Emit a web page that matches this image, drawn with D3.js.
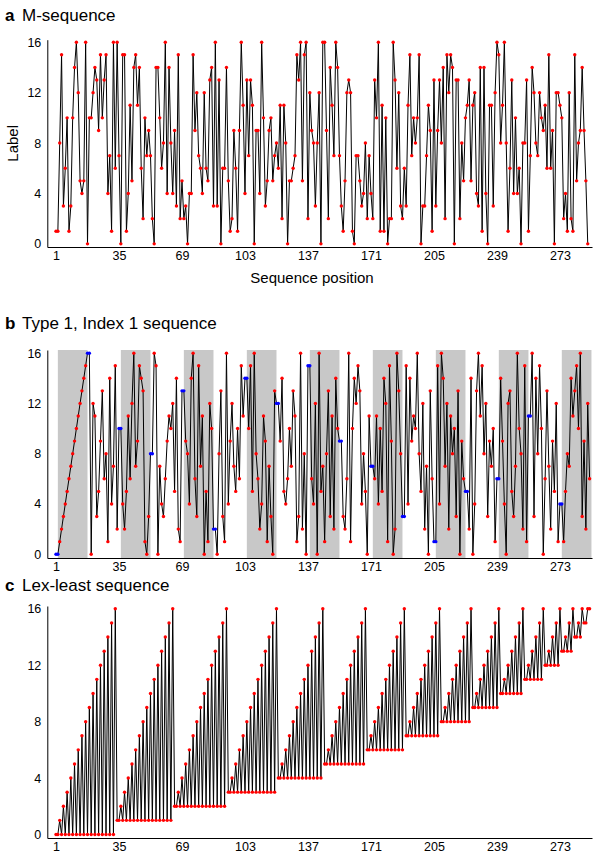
<!DOCTYPE html>
<html>
<head>
<meta charset="utf-8">
<script src="https://cdn.jsdelivr.net/npm/d3@7"></script>
<style>
  body { margin: 0; background: #fff; }
  text { font-family: "Liberation Sans", Arial, sans-serif; fill: #000; }
</style>
</head>
<body>
<div id="chart"></div>
<script>
// label values, one entry per sequence position
const mSequence = [
  1, 1, 8, 15, 3, 6, 10, 1, 3, 10, 14, 16, 12, 5, 4, 5, 16, 0, 10, 10,
  12, 14, 13, 9, 15, 10, 13, 15, 4, 7, 1, 16, 6, 16, 7, 0, 15, 15, 1, 4,
  11, 5, 14, 15, 11, 14, 6, 2, 10, 7, 9, 7, 2, 0, 14, 14, 10, 6, 8, 16,
  4, 14, 8, 4, 9, 3, 15, 2, 5, 2, 3, 0, 4, 4, 15, 9, 12, 7, 6, 4,
  12, 6, 5, 13, 14, 3, 16, 3, 13, 0, 6, 6, 14, 5, 1, 2, 9, 6, 1, 9,
  16, 11, 4, 13, 7, 13, 11, 0, 9, 9, 4, 16, 10, 3, 5, 9, 10, 5, 7, 8,
  6, 11, 2, 11, 8, 0, 5, 5, 6, 7, 15, 13, 16, 5, 15, 16, 2, 12, 9, 8,
  3, 8, 12, 0, 16, 16, 9, 2, 14, 11, 7, 16, 14, 7, 3, 1, 5, 12, 13, 12,
  1, 0, 7, 7, 5, 3, 4, 8, 2, 7, 4, 2, 13, 10, 16, 1, 11, 1, 10, 0,
  2, 2, 16, 13, 6, 12, 3, 2, 6, 3, 11, 15, 7, 10, 8, 10, 15, 0, 3, 3,
  7, 11, 9, 1, 13, 3, 9, 13, 8, 14, 2, 15, 12, 15, 14, 0, 13, 13, 2, 8,
  5, 10, 11, 13, 5, 11, 12, 4, 3, 14, 1, 14, 4, 0, 11, 11, 3, 12, 16, 15,
  8, 11, 16, 8, 1, 6, 13, 4, 10, 4, 6, 0, 8, 8, 13, 1, 7, 14, 12, 8,
  7, 12, 10, 9, 11, 6, 15, 6, 9, 0, 12, 12, 11, 10, 2, 4, 1, 12, 2, 1,
  15, 5, 8, 9, 14, 9, 5, 0
];

const type1Sequence = [
  0, 0, 1, 2, 3, 4, 5, 6, 7, 8, 9, 10, 11, 12, 13, 14, 15,
  16, 16, 0, 12, 11, 3, 5, 9, 13, 6, 8, 1, 14, 4, 7, 15, 2,
  10, 10, 4, 2, 5, 11, 6, 12, 16, 7, 9, 15, 14, 13, 1, 0, 3,
  8, 8, 16, 15, 0, 7, 4, 3, 6, 9, 11, 10, 12, 5, 14, 2, 1,
  13, 13, 9, 8, 4, 14, 16, 6, 3, 15, 7, 11, 0, 5, 1, 12, 10,
  2, 2, 0, 8, 13, 3, 1, 16, 4, 9, 12, 7, 5, 10, 6, 15, 11,
  14, 14, 10, 15, 5, 16, 8, 6, 2, 4, 11, 9, 1, 7, 3, 0, 13,
  12, 12, 9, 14, 5, 4, 6, 10, 7, 13, 11, 1, 3, 16, 2, 8, 0,
  15, 15, 6, 4, 12, 0, 16, 5, 7, 1, 8, 13, 3, 11, 2, 14, 10,
  9, 9, 3, 2, 6, 16, 1, 10, 14, 12, 15, 13, 4, 8, 5, 0, 11,
  7, 7, 6, 11, 4, 10, 5, 14, 12, 1, 15, 9, 0, 2, 16, 13, 8,
  3, 3, 15, 4, 14, 9, 11, 10, 16, 8, 5, 12, 2, 7, 0, 13, 6,
  1, 1, 15, 4, 16, 14, 7, 12, 2, 11, 8, 10, 3, 13, 0, 9, 6,
  5, 5, 2, 14, 0, 4, 13, 16, 11, 15, 8, 12, 3, 9, 7, 10, 1,
  6, 6, 14, 9, 4, 0, 12, 13, 5, 3, 7, 16, 10, 8, 2, 15, 1,
  11, 11, 16, 3, 14, 8, 15, 10, 0, 6, 13, 7, 2, 9, 5, 12, 1,
  4, 4, 1, 5, 8, 7, 14, 11, 13, 15, 10, 16, 3, 9, 2, 12, 6
];

const lexLeastSequence = [
  0, 0, 1, 0, 2, 0, 3, 0, 4, 0, 5, 0, 6, 0, 7, 0, 8, 0, 9, 0, 10, 0, 11, 0, 12, 0, 13, 0, 14, 0, 15, 0, 16,
  1, 1, 2, 1, 3, 1, 4, 1, 5, 1, 6, 1, 7, 1, 8, 1, 9, 1, 10, 1, 11, 1, 12, 1, 13, 1, 14, 1, 15, 1, 16,
  2, 2, 3, 2, 4, 2, 5, 2, 6, 2, 7, 2, 8, 2, 9, 2, 10, 2, 11, 2, 12, 2, 13, 2, 14, 2, 15, 2, 16,
  3, 3, 4, 3, 5, 3, 6, 3, 7, 3, 8, 3, 9, 3, 10, 3, 11, 3, 12, 3, 13, 3, 14, 3, 15, 3, 16,
  4, 4, 5, 4, 6, 4, 7, 4, 8, 4, 9, 4, 10, 4, 11, 4, 12, 4, 13, 4, 14, 4, 15, 4, 16,
  5, 5, 6, 5, 7, 5, 8, 5, 9, 5, 10, 5, 11, 5, 12, 5, 13, 5, 14, 5, 15, 5, 16,
  6, 6, 7, 6, 8, 6, 9, 6, 10, 6, 11, 6, 12, 6, 13, 6, 14, 6, 15, 6, 16,
  7, 7, 8, 7, 9, 7, 10, 7, 11, 7, 12, 7, 13, 7, 14, 7, 15, 7, 16,
  8, 8, 9, 8, 10, 8, 11, 8, 12, 8, 13, 8, 14, 8, 15, 8, 16,
  9, 9, 10, 9, 11, 9, 12, 9, 13, 9, 14, 9, 15, 9, 16,
  10, 10, 11, 10, 12, 10, 13, 10, 14, 10, 15, 10, 16,
  11, 11, 12, 11, 13, 11, 14, 11, 15, 11, 16,
  12, 12, 13, 12, 14, 12, 15, 12, 16,
  13, 13, 14, 13, 15, 13, 16,
  14, 14, 15, 14, 16,
  15, 15, 16,
  16
];

// shaded blocks of panel b: [first, last] sequence position
const shadedBlocks = [
  [2, 18], [36, 52], [70, 86], [104, 120], [138, 154],
  [172, 188], [206, 222], [240, 256], [274, 290]
];

const xTicks = [1, 35, 69, 103, 137, 171, 205, 239, 273];
const yTicks = [0, 4, 8, 12, 16];

const width = 600;
const height = 864;

const svg = d3
  .select("#chart")
  .append("svg")
  .attr("width", width)
  .attr("height", height);

const xScale = d3.scaleLinear().domain([-3.7, 290.3]).range([47.3, 592]);

function drawPanel({ letter, title, data, titleY, yRange, yDomain, shaded, markRepeats, axisTitles }) {
  const yScale = d3.scaleLinear().domain(yDomain).range(yRange);
  const g = svg.append("g");

  // title
  const t = g.append("text").attr("x", 5).attr("y", titleY).style("font-size", "17px");
  t.append("tspan").style("font-weight", "bold").text(letter);
  t.append("tspan").attr("x", 22).text(title);

  if (shaded) {
    g.selectAll("rect.band")
      .data(shaded)
      .enter()
      .append("rect")
      .attr("class", "band")
      .attr("x", (d) => xScale(d[0]))
      .attr("width", (d) => xScale(d[1]) - xScale(d[0]))
      .attr("y", yScale(yDomain[1]))
      .attr("height", yScale(yDomain[0]) - yScale(yDomain[1]))
      .attr("fill", "#c8c8c8");
  }

  const line = d3
    .line()
    .x((d, i) => xScale(i + 1))
    .y((d) => yScale(d));

  g.append("path")
    .datum(data)
    .attr("d", line)
    .attr("fill", "none")
    .attr("stroke", "#000")
    .attr("stroke-width", 1);

  const isRepeat = (d, i) =>
    markRepeats && (data[i - 1] === d || data[i + 1] === d);

  g.selectAll("circle")
    .data(data)
    .enter()
    .append("circle")
    .attr("cx", (d, i) => xScale(i + 1))
    .attr("cy", (d) => yScale(d))
    .attr("r", 1.7)
    .attr("fill", (d, i) => (isRepeat(d, i) ? "#0000ff" : "#ff0000"));

  const xAxis = d3.axisBottom(xScale).tickValues(xTicks).tickSize(0).tickPadding(4);
  const yAxis = d3.axisLeft(yScale).tickValues(yTicks).tickSize(0).tickPadding(6);

  g.append("g")
    .attr("transform", `translate(0, ${yRange[0]})`)
    .call(xAxis)
    .call((a) => a.selectAll("text").style("font-size", "12.5px").attr("font-family", null));

  g.append("g")
    .attr("transform", `translate(${xScale.range()[0]}, 0)`)
    .call(yAxis)
    .call((a) => a.selectAll("text").style("font-size", "12.5px").attr("font-family", null));

  g.selectAll(".domain").attr("stroke", "#000").attr("stroke-width", 1);

  if (axisTitles) {
    g.append("text")
      .attr("x", 312)
      .attr("y", yRange[0] + 36)
      .style("text-anchor", "middle")
      .style("font-size", "15px")
      .text("Sequence position");

    g.append("text")
      .attr("transform", "rotate(-90)")
      .attr("x", -(yRange[0] + yRange[1]) / 2)
      .attr("y", 18)
      .style("text-anchor", "middle")
      .style("font-size", "15px")
      .text("Label");
  }
}

drawPanel({
  letter: "a",
  title: "M-sequence",
  data: mSequence,
  titleY: 21,
  yRange: [247, 39.7],
  yDomain: [-0.25, 16.2],
  axisTitles: true,
});

drawPanel({
  letter: "b",
  title: "Type 1, Index 1 sequence",
  data: type1Sequence,
  titleY: 329,
  yRange: [558, 350],
  yDomain: [-0.3, 16.25],
  shaded: shadedBlocks,
  markRepeats: true,
});

drawPanel({
  letter: "c",
  title: "Lex-least sequence",
  data: lexLeastSequence,
  titleY: 591,
  yRange: [838, 606],
  yDomain: [-0.25, 16.2],
});
</script>
</body>
</html>
